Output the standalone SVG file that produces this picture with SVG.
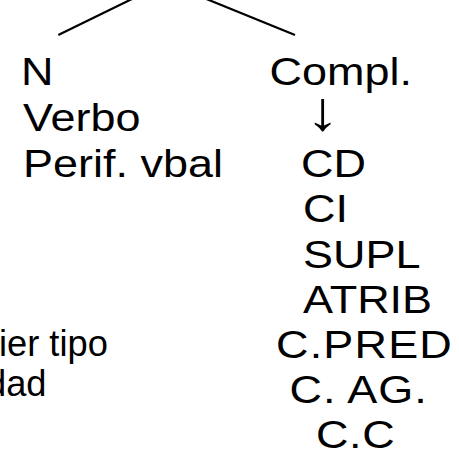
<svg xmlns="http://www.w3.org/2000/svg" width="459" height="450" viewBox="0 0 459 450">
<style>
.t{font-family:"Liberation Sans",Arial,sans-serif;font-size:38px;fill:#000}
.s{font-family:"Liberation Sans",Arial,sans-serif;font-size:37px;fill:#000}
.a{font-family:"Liberation Sans",Arial,sans-serif;font-size:50px;fill:#000}
.ln{stroke:#000;stroke-width:2.2;fill:none}
</style>
<rect width="459" height="450" fill="#fff"/>
<g id="connectors">
<line class="ln" x1="58.3" y1="35" x2="134" y2="-2"/>
<line class="ln" x1="204" y1="-2" x2="295" y2="35"/>
</g>
<g id="left">
<text class="t" transform="translate(21,85) scale(1.184,1)">N</text>
<text class="t" transform="translate(23,131) scale(1.184,1)">Verbo</text>
<text class="t" transform="translate(23,177) scale(1.184,1)">Perif. vbal</text>
</g>
<g id="left-bottom">
<text class="s" transform="translate(-1,356) scale(0.98,1)">ier tipo</text>
<text class="s" transform="translate(-14,396) scale(0.98,1)">dad</text>
</g>
<g id="right">
<text class="t" transform="translate(269.5,85) scale(1.184,1)">Compl.</text>
<text class="t" transform="translate(301,177) scale(1.184,1)">CD</text>
<text class="t" transform="translate(303,222) scale(1.184,1)">CI</text>
<text class="t" transform="translate(303,268) scale(1.184,1)">SUPL</text>
<text class="t" transform="translate(303,313) scale(1.184,1)">ATRIB</text>
<text class="t" transform="translate(276,357.5) scale(1.184,1)" letter-spacing="1">C.PRED</text>
<text class="t" transform="translate(289.5,403) scale(1.184,1)" letter-spacing="0.8">C. AG.</text>
<text class="t" transform="translate(316,448) scale(1.184,1)" letter-spacing="0.5">C.C</text>
</g>
<g id="arrow">
<text class="a" text-anchor="middle" transform="translate(322.5,130) scale(1.35,1.1)">↓</text>
</g>
</svg>
